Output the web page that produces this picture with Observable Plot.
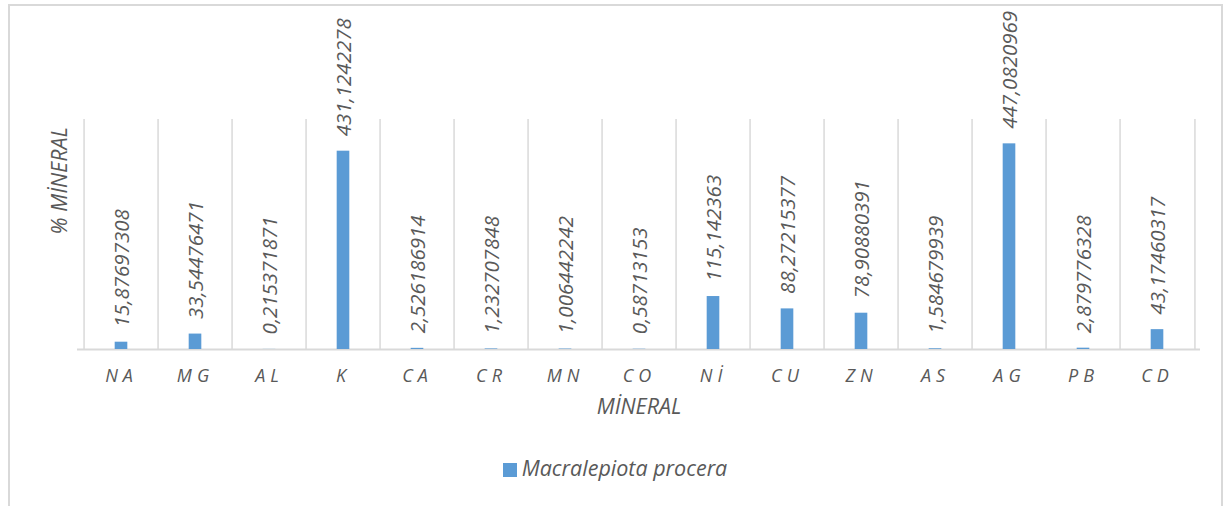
<!DOCTYPE html>
<html>
<head>
<meta charset="utf-8">
<script src="https://cdn.jsdelivr.net/npm/d3@7"></script>
<script src="https://cdn.jsdelivr.net/npm/@observablehq/plot@0.6"></script>
<style>
  html, body { margin: 0; padding: 0; background: #fff; }
  #wrap { position: relative; width: 1226px; height: 506px; overflow: hidden; font-family: "Open Sans", sans-serif; }
  #border { position: absolute; left: 8px; top: 4px; width: 1215px; height: 600px; border: 2px solid #d9d9d9; box-sizing: border-box; }
  #chart { position: absolute; left: 0; top: 0; }
  #legend { position: absolute; left: 0; width: 1230px; top: 453px; text-align: center; font-style: italic; font-size: 21.5px; color: #595959; }
  #legend .sw { display: inline-block; width: 14px; height: 14px; background: #5b9bd5; margin-right: 5px; vertical-align: -1px; }
  .xt text { letter-spacing: 5px; }
</style>
</head>
<body>
<div id="wrap">
  <div id="border"></div>
  <div id="chart"></div>
  <div id="legend"><span class="sw"></span>Macralepiota procera</div>
</div>
<script>
const minerals = ["NA","MG","AL","K","CA","CR","MN","CO","Nİ","CU","ZN","AS","AG","PB","CD"];
const values = [15.87697308, 33.54476471, 0.215371871, 431.1242278, 2.526186914, 1.232707848, 1.006442242, 0.58713153, 115.142363, 88.27215377, 78.90880391, 1.584679939, 447.0820969, 2.879776328, 43.17460317];
const seriesName = "Macralepiota procera";
const xTitle = "MİNERAL";
const yTitle = "% MİNERAL";

const data = minerals.map((m, i) => ({mineral: m, value: values[i], label: String(values[i]).replace(".", ",")}));

const W = 1226, H = 506, mL = 77, mR = 26, mT = 119, mB = 157;
const xs = Plot.scale({x: {type: "band", domain: minerals, range: [mL, W - mR], padding: 0}});
const bw = xs.bandwidth;
const inset = (bw - 13.5) / 2;
const grey = "#595959";

const chart = Plot.plot({
  width: W, height: H,
  marginLeft: mL, marginRight: mR, marginTop: mT, marginBottom: mB,
  style: {fontFamily: "'Open Sans', sans-serif", color: grey, background: "transparent"},
  x: {domain: minerals, padding: 0},
  y: {domain: [0, 500], axis: null},
  marks: [
    Plot.ruleX(minerals, {x: d => d, dx: -bw / 2, y1: 0, y2: 500, stroke: "#d9d9d9", strokeWidth: 1.5}),
    Plot.ruleX([minerals[minerals.length - 1]], {x: d => d, dx: bw / 2, y1: 0, y2: 500, stroke: "#d9d9d9", strokeWidth: 1.5}),
    Plot.ruleY([0], {stroke: "#d9d9d9", strokeWidth: 2}),
    Plot.barY(data, {x: "mineral", y: "value", fill: "#5b9bd5", insetLeft: inset, insetRight: inset}),
    Plot.text(data, {x: "mineral", y: "value", text: "label", rotate: -90, textAnchor: "start", lineAnchor: "middle", dx: 1, dy: -15, fontSize: 20.5, fontStyle: "italic", fill: grey}),
    Plot.axisX({tickSize: 0, tickPadding: 20, fontSize: 18, fontStyle: "italic", fill: grey, label: null, className: "xt"}),
    Plot.text([xTitle], {frameAnchor: "bottom", dy: 64, fontSize: 21.5, fontStyle: "italic", fill: grey}),
    Plot.text([yTitle], {frameAnchor: "left", rotate: -90, dx: -17, dy: 0, fontSize: 21.5, fontStyle: "italic", fill: grey})
  ]
});
document.getElementById("chart").appendChild(chart);
</script>
</body>
</html>
